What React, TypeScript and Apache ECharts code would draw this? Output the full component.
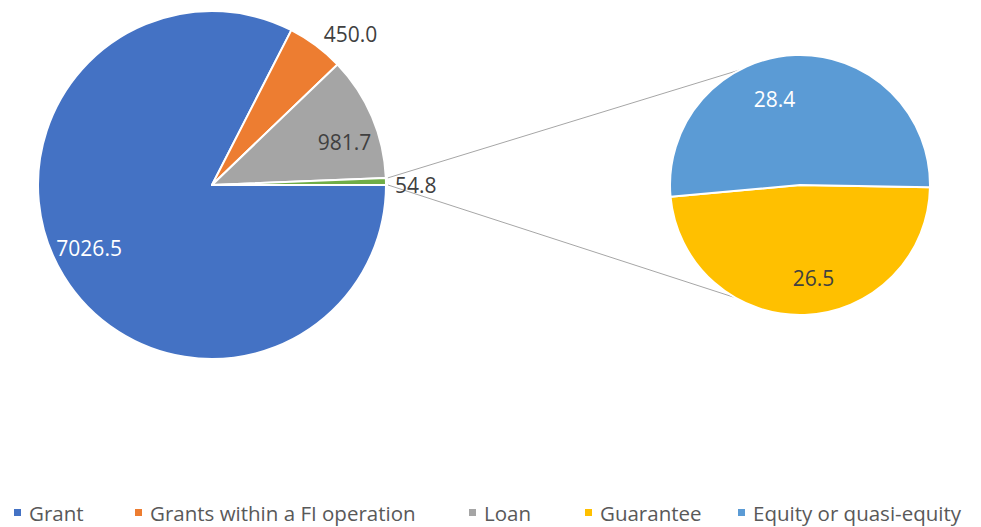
import React, { useEffect, useRef } from "react";
import * as echarts from "echarts";

const categories = ["Grant", "Grants within a FI operation", "Loan", "Other"];
const mainValues = [7026.5, 450.0, 981.7, 54.8];
const mainColors = ["#4472C4", "#ED7D31", "#A5A5A5", "#70AD47"];

const subCategories = ["Guarantee", "Equity or quasi-equity"];
const subValues = [26.5, 28.4];
const subColors = ["#FFC000", "#5B9BD5"];

const legendNames = ["Grant", "Grants within a FI operation", "Loan", "Guarantee", "Equity or quasi-equity"];
const legendColors = ["#4472C4", "#ED7D31", "#A5A5A5", "#FFC000", "#5B9BD5"];
const legendLefts = [12, 133, 467, 583, 736];

const FONT = "'Open Sans', 'Noto Sans', sans-serif";

export default function App() {
  const ref = useRef<HTMLDivElement>(null);
  useEffect(() => {
    document.body.style.margin = "0";
    if (!ref.current) return;
    const chart = echarts.init(ref.current, null, { renderer: "svg" });

    const mainC = [212, 185];
    const mainR = 174;
    const subC = [800, 185];
    const subR = 130;

    const total = mainValues.reduce((a, b) => a + b, 0);
    const otherAngle = (360 * mainValues[3]) / total;
    const rad = (d: number) => (d * Math.PI) / 180;
    const pt = (c: number[], r: number, deg: number) => [c[0] + r * Math.cos(rad(deg)), c[1] - r * Math.sin(rad(deg))];
    const s1 = pt(mainC, mainR + 2, otherAngle);
    const s2 = pt(mainC, mainR + 2, 0);
    const e1 = pt(subC, subR, 118);
    const e2 = pt(subC, subR, 240);

    const fmt = (p: any) => Number(p.value).toFixed(1);

    const mainLabelCfg = [
      { position: "inside", color: "#FFFFFF" },
      { position: "outside", color: "#404040" },
      { position: "inside", color: "#404040" },
      { position: "outside", color: "#404040" },
    ];
    const mainShift = [
      { dx: 0, dy: -12 },
      { dx: -4, dy: -5 },
      { dx: 0, dy: 13 },
      { dx: -6, dy: 4 },
    ];
    const subLabelCfg = [{ color: "#404040" }, { color: "#FFFFFF" }];
    const subShift = [
      { dx: 10, dy: 0 },
      { dx: -22, dy: 7 },
    ];

    chart.setOption({
      animation: false,
      textStyle: { fontFamily: FONT },
      legend: legendNames.map((n, i) => ({
        data: [{ name: n, itemStyle: { color: legendColors[i] } }],
        left: legendLefts[i],
        top: 502,
        padding: 0,
        icon: "rect",
        itemWidth: 9,
        itemHeight: 9,
        selectedMode: false,
        textStyle: { fontFamily: FONT, fontSize: 20.5, color: "#595959", padding: [0, 0, 0, 2] },
      })),
      graphic: [
        { type: "line", z: 0, shape: { x1: s1[0], y1: s1[1], x2: e1[0], y2: e1[1] }, style: { stroke: "#A6A6A6", lineWidth: 1 } },
        { type: "line", z: 0, shape: { x1: s2[0], y1: s2[1], x2: e2[0], y2: e2[1] }, style: { stroke: "#A6A6A6", lineWidth: 1 } },
      ],
      series: [
        {
          type: "pie",
          center: mainC,
          radius: mainR,
          startAngle: 0,
          clockwise: true,
          avoidLabelOverlap: false,
          silent: true,
          itemStyle: { borderColor: "#FFFFFF", borderWidth: 2 },
          label: { show: false },
          labelLine: { show: false },
          data: categories.map((n, i) => ({ name: n, value: mainValues[i], itemStyle: { color: mainColors[i] } })),
        },
        {
          type: "pie",
          center: mainC,
          radius: [108, mainR],
          startAngle: 0,
          clockwise: true,
          avoidLabelOverlap: false,
          silent: true,
          z: 3,
          itemStyle: { color: "rgba(0,0,0,0)", borderWidth: 0 },
          labelLine: { show: false, length: 8, length2: 2 },
          labelLayout: (p: any) => mainShift[p.dataIndex],
          data: categories.map((n, i) => ({
            name: n,
            value: mainValues[i],
            itemStyle: { color: "rgba(0,0,0,0)" },
            label: {
              show: true,
              position: mainLabelCfg[i].position,
              color: mainLabelCfg[i].color,
              fontSize: 21,
              fontFamily: FONT,
              formatter: fmt,
            },
          })),
        },
        {
          type: "pie",
          center: subC,
          radius: subR,
          startAngle: -1,
          clockwise: true,
          avoidLabelOverlap: false,
          silent: true,
          itemStyle: { borderColor: "#FFFFFF", borderWidth: 2 },
          label: { show: false },
          labelLine: { show: false },
          data: subCategories.map((n, i) => ({ name: n, value: subValues[i], itemStyle: { color: subColors[i] } })),
        },
        {
          type: "pie",
          center: subC,
          radius: [50, subR],
          startAngle: -1,
          clockwise: true,
          avoidLabelOverlap: false,
          silent: true,
          z: 3,
          itemStyle: { color: "rgba(0,0,0,0)", borderWidth: 0 },
          labelLine: { show: false },
          labelLayout: (p: any) => subShift[p.dataIndex],
          data: subCategories.map((n, i) => ({
            name: n,
            value: subValues[i],
            itemStyle: { color: "rgba(0,0,0,0)" },
            label: {
              show: true,
              position: "inside",
              color: subLabelCfg[i].color,
              fontSize: 21,
              fontFamily: FONT,
              formatter: fmt,
            },
          })),
        },
      ],
    });
    return () => chart.dispose();
  }, []);
  return <div ref={ref} style={{ width: 981, height: 527 }} />;
}
